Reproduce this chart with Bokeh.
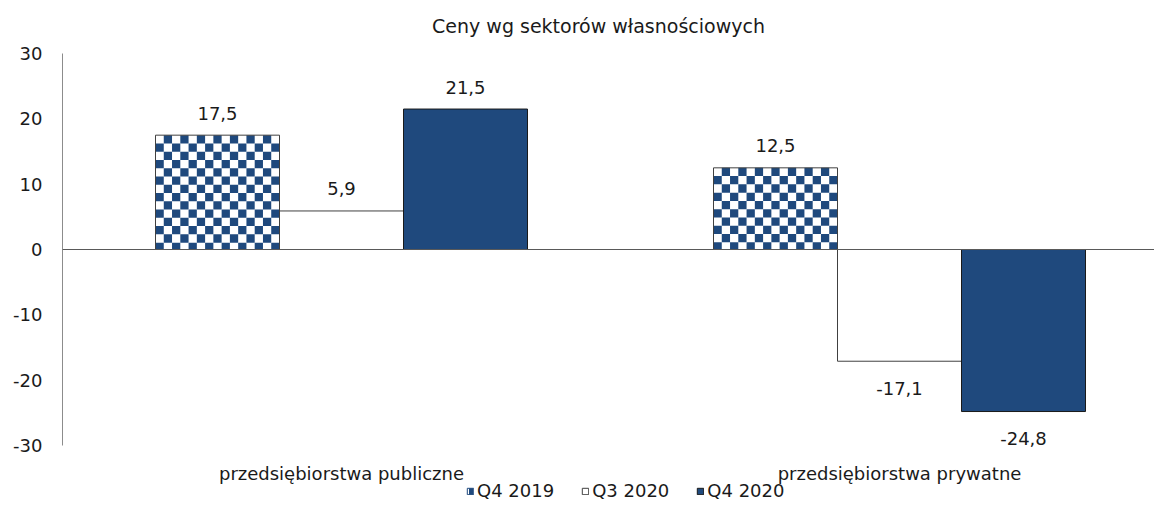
import math
from bokeh.plotting import figure
from bokeh.models import (ColumnDataSource, Range1d, FixedTicker, Span, Label,
                          Legend, LegendItem)
from bokeh.core.properties import value
from bokeh.embed import file_html
from bokeh.resources import INLINE

# ---- data ----
categories = ["przedsiębiorstwa publiczne", "przedsiębiorstwa prywatne"]
series_names = ["Q4 2019", "Q3 2020", "Q4 2020"]
q4_2019 = [17.5, 12.5]
q3_2020 = [5.9, -17.1]
q4_2020 = [21.5, -24.8]
y_ticks = [-30, -20, -10, 0, 10, 20, 30]
y_tick_labels = ["-30", "-20", "-10", "0", "10", "20", "30"]
title_text = "Ceny wg sektorów własnościowych"

# ---- style / layout ----
DARK = "#1F497D"
TXT = "#1a1a1a"
FONT = "DejaVu Sans"
FS = "18px"
W, H = 1154, 501
LEFT = 62                 # frame left edge (px)
TOP_PX, BOT_PX = 53, 445  # pixel rows of +30 and -30
CAT_PX = 558              # px per category
PX_Y = (BOT_PX - TOP_PX) / (y_ticks[-1] - y_ticks[0])
BW = 124 / CAT_PX         # bar width in category units
CENTERS = [0.5, 1.5]

y_top = y_ticks[-1] + TOP_PX / PX_Y
y_bot = y_ticks[-1] - (H - TOP_PX) / PX_Y

p = figure(width=W, height=H, output_backend="svg", toolbar_location=None,
           x_range=Range1d(0, (W - LEFT) / CAT_PX), y_range=Range1d(y_bot, y_top),
           x_axis_location=None, min_border=0, min_border_left=LEFT)
p.title.visible = False
p.outline_line_color = None
p.xgrid.visible = False
p.ygrid.visible = False


def fmt(v):
    return f"{v:.1f}".replace(".", ",")


series_vals = [q4_2019, q3_2020, q4_2020]
fills = ["white", "white", DARK]
lines = ["#404040", "#404040", "#1a1a1a"]
renderers = []
for i, (name, vals) in enumerate(zip(series_names, series_vals)):
    xs = [c + (i - 1) * BW for c in CENTERS]
    src = ColumnDataSource(dict(
        x=xs, top=vals, label=[fmt(v) for v in vals],
        yoff=[-22 if v >= 0 else 27 for v in vals],
    ))
    if i == 0:
        # legend swatch renderer (zero-height bars, invisible on the plot)
        r = p.vbar(x="x", top=0, bottom=0, width=BW, source=src,
                   fill_color="white", line_color=DARK, line_width=1,
                   hatch_pattern="vertical_line", hatch_color=DARK,
                   hatch_scale=8, hatch_weight=4)
        # white base, checker cells, then outline on top
        p.vbar(x="x", top="top", bottom=0, width=BW, source=src,
               fill_color="white", line_color=None)
        ncol = 15
        dx = BW / ncol
        dy = (BW * CAT_PX / ncol) / PX_Y
        L, R, T, B = [], [], [], []
        for c, v in zip(xs, vals):
            left = c - BW / 2
            nrows = int(math.ceil(abs(v) / dy - 1e-9))
            sgn = 1 if v >= 0 else -1
            for rr in range(nrows):
                t = v - sgn * rr * dy
                b = v - sgn * (rr + 1) * dy
                b = max(b, 0) if v >= 0 else min(b, 0)
                for col in range(ncol):
                    if (rr + col) % 2 == 1:
                        L.append(left + col * dx)
                        R.append(left + (col + 1) * dx)
                        T.append(t)
                        B.append(b)
        p.quad(left=L, right=R, top=T, bottom=B, fill_color=DARK, line_color=None)
        p.vbar(x="x", top="top", bottom=0, width=BW, source=src,
               fill_color=None, line_color=lines[i], line_width=1)
    else:
        r = p.vbar(x="x", top="top", bottom=0, width=BW, source=src,
                   fill_color=fills[i], line_color=lines[i], line_width=1)
    renderers.append(r)
    p.text(x="x", y="top", text="label", y_offset="yoff", source=src,
           text_align="center", text_baseline="middle",
           text_font=value(FONT), text_font_size=FS, text_color=TXT)

p.add_layout(Span(location=0, dimension="width", line_color="#595959", line_width=1))

# y axis
ya = p.yaxis[0]
ya.ticker = FixedTicker(ticks=y_ticks)
ya.bounds = (y_ticks[0], y_ticks[-1])
ya.major_label_overrides = {t: s for t, s in zip(y_ticks, y_tick_labels)}
ya.major_tick_line_color = None
ya.minor_tick_line_color = None
ya.major_tick_out = 0
ya.major_tick_in = 0
ya.axis_line_color = "#8c8c8c"
ya.major_label_standoff = 20
ya.major_label_text_font = FONT
ya.major_label_text_font_size = FS
ya.major_label_text_color = TXT

# category labels
cat_src = ColumnDataSource(dict(x=CENTERS, y=[y_ticks[0]] * len(CENTERS), text=categories))
p.text(x="x", y="y", text="text", source=cat_src, y_offset=28,
       text_align="center", text_baseline="middle",
       text_font=value(FONT), text_font_size=FS, text_color=TXT)

# title
p.add_layout(Label(x=(598 - LEFT) / CAT_PX, y=y_ticks[-1] + (TOP_PX - 25) / PX_Y,
                   text=title_text, text_align="center", text_baseline="middle",
                   text_font=FONT, text_font_size="19px", text_color=TXT))

legend = Legend(items=[LegendItem(label=n, renderers=[r]) for n, r in zip(series_names, renderers)],
                location=(404, 0), orientation="horizontal",
                glyph_width=8, glyph_height=8, label_standoff=3, spacing=27,
                padding=0, margin=0, border_line_color=None,
                background_fill_alpha=0,
                label_text_font=FONT, label_text_font_size=FS,
                label_text_color=TXT)
p.add_layout(legend)

open("out.html", "w").write(file_html(p, INLINE))
